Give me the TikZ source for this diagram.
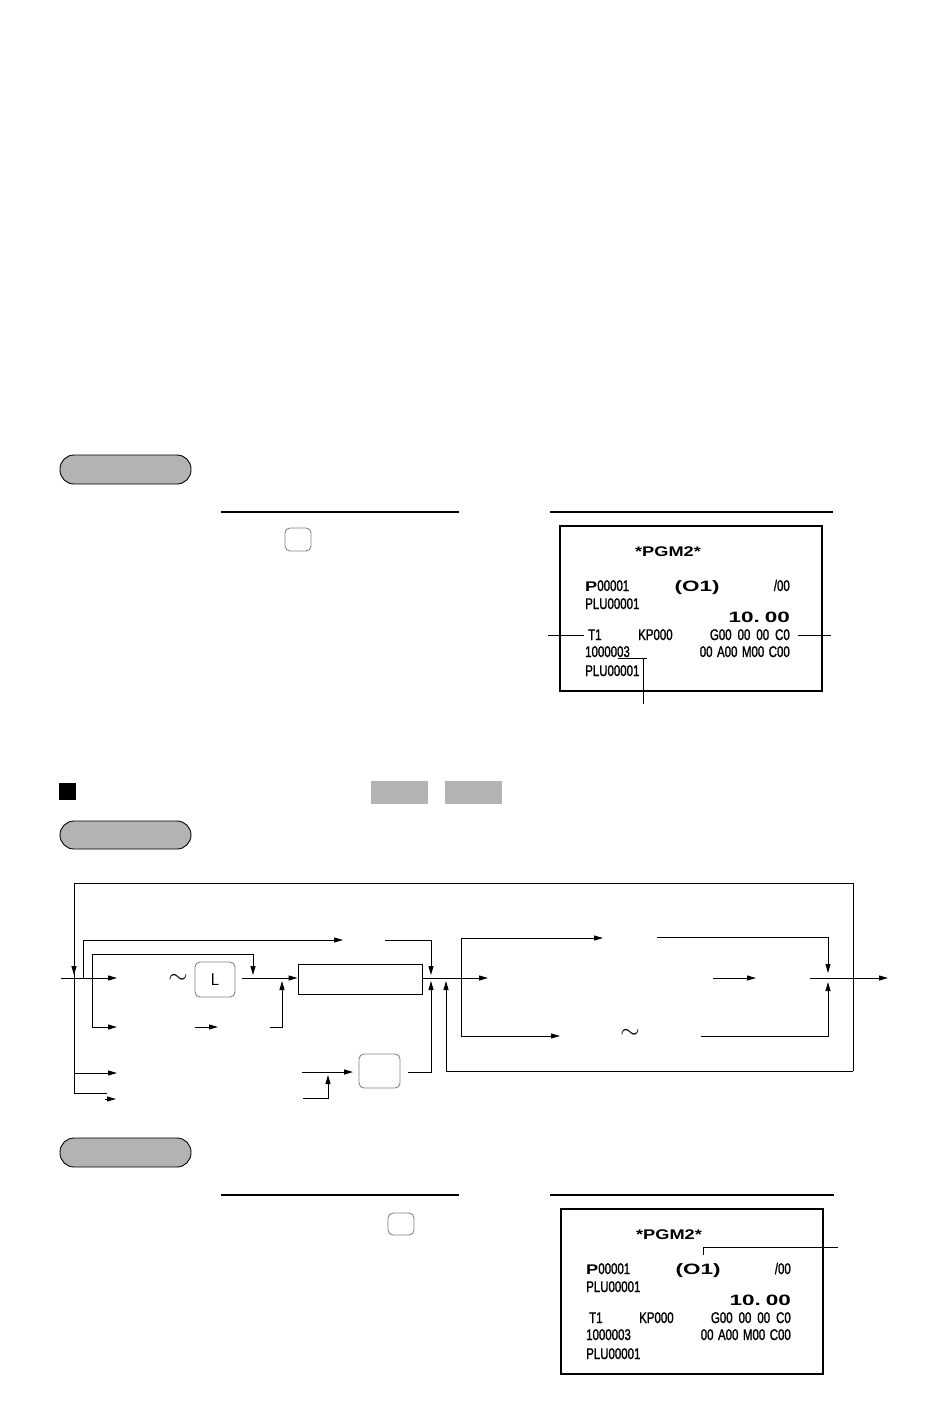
\documentclass[tikz,border=0pt]{standalone}
\usepackage{fontspec}
\usetikzlibrary{arrows.meta}
\newfontfamily\rcfont[FakeStretch=0.74,FakeBold=1.2]{Liberation Sans}
\newfontfamily\rcwide[FakeStretch=1.3]{Liberation Sans}
\newfontfamily\rcwider[FakeStretch=1.5]{Liberation Sans}
\definecolor{pillgray}{RGB}{179,179,179}
\definecolor{keygray}{RGB}{130,130,130}
\newcommand\rcsmall{\rcfont\fontsize{15.5}{15.5}\selectfont}
\newcommand\rcbig{\rcwide\bfseries\fontsize{14}{14}\selectfont}
\newcommand\rcamt{\rcwider\bfseries\fontsize{15}{15}\selectfont}
\newcommand\receiptbody{%
  \node[rbox] (box) at (691,82.5) {};
  \node[rtxt,anchor=center] (pgm) at (668,26) {\rcbig *PGM2*};
  \node[rtxt,anchor=base west] (p) at (585,65) {{\rcbig P}\rcsmall 00001};
  \node[rtxt,anchor=base] (o1) at (697,65) {\rcamt (O1)};
  \node[rtxt,anchor=base east] (slash) at (790,65) {\rcsmall /00};
  \node[rtxt,anchor=base west] (plu) at (585,83) {\rcsmall PLU00001};
  \node[rtxt,anchor=base east] (amt) at (790,96) {\rcamt 10.\,\,00};
  \node[rtxt,anchor=base west] (t1) at (588,114) {\rcsmall T1};
  \node[rtxt,anchor=base west] (kp) at (638,114) {\rcsmall KP000};
  \node[rtxt,anchor=base east] (g) at (790,114) {\rcsmall G00\hspace{6pt}00\hspace{6pt}00\hspace{6pt}C0};
  \node[rtxt,anchor=base west] (num) at (585,131) {\rcsmall 1000003};
  \node[rtxt,anchor=base east] (a) at (790,131) {\rcsmall 00\hspace{4.5pt}A00\hspace{4.5pt}M00\hspace{4.5pt}C00};
  \node[rtxt,anchor=base west] (plub) at (585,150) {\rcsmall PLU00001};
}
\begin{document}
\begin{tikzpicture}[x=1pt,y=-1pt,
  ln/.style={line width=1pt},
  arr/.style={line width=1pt,-{Triangle[length=9pt,width=5pt]}},
  pill/.style={draw,line width=0.9pt,fill=pillgray,rounded corners=14pt,minimum width=131pt,minimum height=29pt,inner sep=0pt},
  keybox/.style={draw=keygray,line width=0.9pt,rounded corners=5pt,inner sep=0pt},
  rbox/.style={draw,line width=1.2pt,minimum width=262pt,minimum height=165pt,inner sep=0pt},
  rtxt/.style={inner sep=0pt},
  tilde/.style={inner sep=0pt,font=\fontsize{24}{24}\selectfont}]
\useasboundingbox (0,0) rectangle (945,1403);

% ---------- section 1 ----------
\node[pill] (pill1) at (125.5,469.5) {};
\coordinate (r1a) at (221,512); \coordinate (r1b) at (459,512);
\draw[line width=1.2pt] (r1a) -- (r1b);
\node[keybox,minimum width=26pt,minimum height=23pt] (key1) at (298,539.5) {};
\coordinate (r2a) at (550,512); \coordinate (r2b) at (833,512);
\draw[line width=1.2pt] (r2a) -- (r2b);

\begin{scope}[shift={(0,526)},name prefix=ra-]
\receiptbody
\end{scope}
\coordinate (la) at (548,635); \coordinate (lb) at (831,635);
\draw[ln] (la) -- (584,635);
\draw[ln] (798,635) -- (lb);
\coordinate (lc) at (618,658); \coordinate (ld) at (643,704);
\draw[ln] (lc) -- (647,658); \draw[ln] (643,658) -- (ld);

% ---------- section 2 ----------
\node[fill=black,minimum size=17pt,inner sep=0pt] (sq) at (67.5,791.5) {};
\node[fill=pillgray,minimum width=57pt,minimum height=23pt,inner sep=0pt] (g1) at (399.5,792.5) {};
\node[fill=pillgray,minimum width=57pt,minimum height=23pt,inner sep=0pt] (g2) at (473.5,792.5) {};
\node[pill,minimum height=28pt] (pill2) at (125.5,835) {};

% flow diagram
\node[tilde] (t1) at (178,979) {$\sim$};
\node[keybox,minimum width=40pt,minimum height=35pt,font=\sffamily\fontsize{17}{17}\selectfont] (keyL) at (215,979.5) {L};
\node[draw,line width=1pt,minimum width=124pt,minimum height=30pt,inner sep=0pt] (mbox) at (360,979) {};
\node[keybox,minimum width=41pt,minimum height=34pt] (key2) at (379.5,1071) {};
\node[tilde] (t2) at (630,1034) {$\sim$};

\coordinate (st) at (61,978);
\coordinate (lx) at (74,883);
\coordinate (rx) at (853,883);
\coordinate (rb) at (853,1071);
% big loops
\draw[ln] (rb) -- (rx) -- (lx) -- (74,1093) -- (107,1093);
\draw[arr] (74,955) -- (74,975);
\draw[ln] (rb) -- (446,1071);
\draw[arr] (446,1071) -- (446,981);
\draw[arr] (74,1073) -- (117,1073);
\draw[arr] (105,1099) -- (116,1099);
% main input
\draw[arr] (st) -- (117,978);
\draw[arr] (83,978) |- (343,940);
\draw[arr] (385,940) -| (431,975);
\draw[arr] (92,978) |- (253,954) -- (253,975);
\draw[arr] (92,978) |- (117,1027);
\draw[arr] (242,978) -- (mbox.west |- st);
\draw[arr] (195,1027) -- (218,1027);
\draw[arr] (270,1027) -| (282,981);
\draw[arr] (302,1072) -- (353,1072);
\draw[arr] (303,1098) -| (328,1075);
\draw[arr] (408,1072) -| (431,981);
\draw[arr] (mbox.east |- st) -- (488,978);
% right part
\draw[arr] (461,978) |- (603,938);
\draw[arr] (461,978) |- (560,1036);
\draw[arr] (657,937) -| (828,973);
\draw[arr] (701,1036) -| (828,982);
\draw[arr] (713,978) -- (756,978);
\draw[arr] (810,978) -- (888,978);

% ---------- section 3 ----------
\node[pill] (pill3) at (125.5,1152.5) {};
\coordinate (r3a) at (221,1195); \coordinate (r3b) at (459,1195);
\draw[line width=1.2pt] (r3a) -- (r3b);
\node[keybox,minimum width=26pt,minimum height=22pt] (key3) at (401,1224) {};
\coordinate (r4a) at (550,1195); \coordinate (r4b) at (834,1195);
\draw[line width=1.2pt] (r4a) -- (r4b);
\begin{scope}[shift={(1,1209)},name prefix=rb-]
\receiptbody
\end{scope}
\coordinate (le) at (838,1247);
\draw[ln] (703,1255) |- (le);
\end{tikzpicture}
\end{document}
